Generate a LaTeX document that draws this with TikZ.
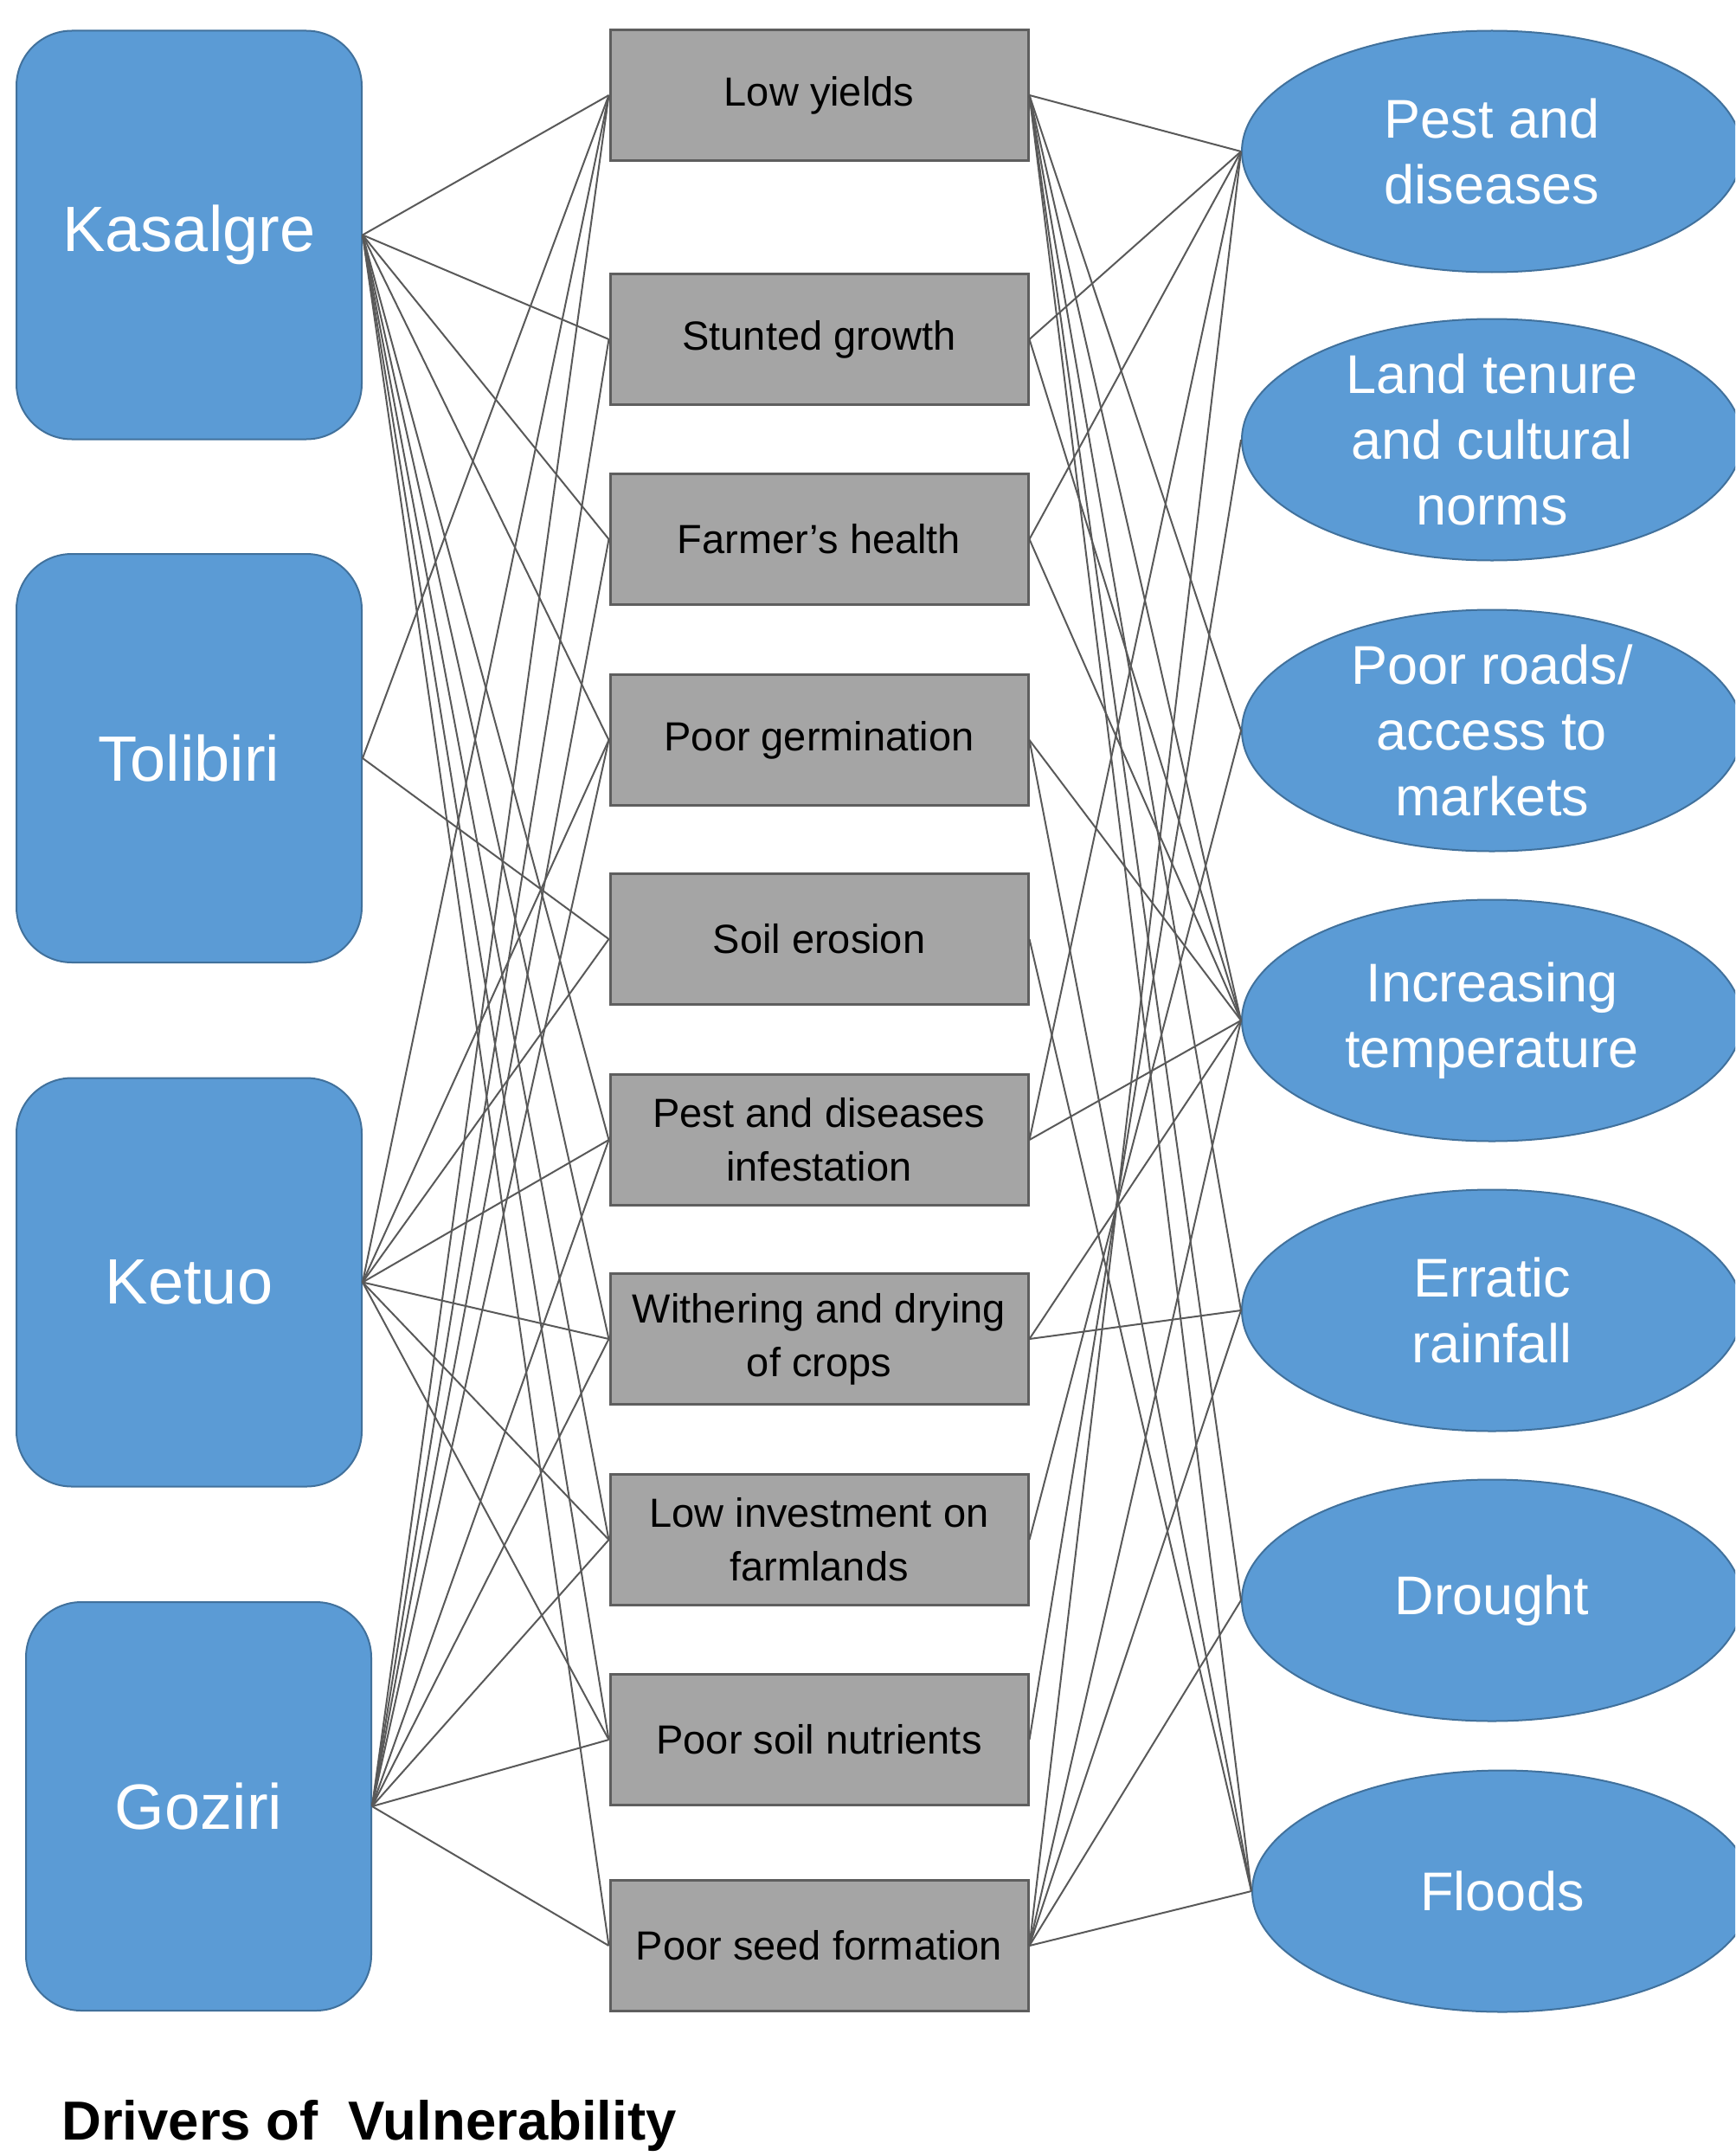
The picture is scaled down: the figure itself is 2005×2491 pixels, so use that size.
\documentclass[tikz,border=0pt]{standalone}
\usepackage{fontspec}
\setmainfont{Liberation Sans}
\usetikzlibrary{shapes.geometric}
\definecolor{cblue}{HTML}{5B9BD5}
\definecolor{cblueedge}{HTML}{41719C}
\definecolor{cgray}{HTML}{A5A5A5}
\definecolor{cgrayedge}{HTML}{5E5E5E}
\definecolor{cline}{HTML}{595959}
\begin{document}
\begin{tikzpicture}[x=1pt,y=-1pt,
  comm/.style={draw=cblueedge,line width=2pt,fill=cblue,rounded corners=64pt,
    minimum width=399pt,minimum height=472pt,inner sep=0pt,text=white,
    font=\fontsize{74}{88}\selectfont},
  imp/.style={draw=cgrayedge,line width=3pt,fill=cgray,
    minimum width=483pt,minimum height=151pt,inner sep=0pt,align=center,
    font=\fontsize{47}{62}\selectfont},
  drv/.style={ellipse,draw=cblueedge,line width=2pt,fill=cblue,
    minimum width=578pt,minimum height=279pt,inner sep=0pt},
  drvtext/.style={text=white,align=center,font=\fontsize{63}{76}\selectfont},
  link/.style={draw=cline,line width=2pt}]
\useasboundingbox (0,0) rectangle (2005,2491);
\clip (0,0) rectangle (2005,2491);
% communities
\node[comm] (K) at (218.5,271.5) {Kasalgre};
\node[comm] (T) at (218.5,876) {Tolibiri};
\node[comm] (E) at (218.5,1481.5) {Ketuo};
\node[comm] (G) at (229.5,2087) {Goziri};
% impacts
\node[imp] (b1) at (946.5,110) {Low yields};
\node[imp] (b2) at (946.5,392) {Stunted growth};
\node[imp] (b3) at (946.5,623) {Farmer’s health};
\node[imp] (b4) at (946.5,855) {Poor germination};
\node[imp] (b5) at (946.5,1085) {Soil erosion};
\node[imp] (b6) at (946.5,1317) {Pest and diseases\\infestation};
\node[imp] (b7) at (946.5,1547) {Withering and drying\\of crops};
\node[imp] (b8) at (946.5,1779) {Low investment on\\farmlands};
\node[imp] (b9) at (946.5,2010) {Poor soil nutrients};
\node[imp] (b10) at (946.5,2248) {Poor seed formation};
% drivers
\node[drv] (d1) at (1724,175) {};
\node[drv] (d2) at (1724,508) {};
\node[drv] (d3) at (1724,844) {};
\node[drv] (d4) at (1724,1179) {};
\node[drv] (d5) at (1724,1514) {};
\node[drv] (d6) at (1724,1849) {};
\node[drv] (d7) at (1736,2185) {};
\node[drvtext] at (d1) {Pest and\\diseases};
\node[drvtext] at (d2) {Land tenure\\and cultural\\norms};
\node[drvtext] at (d3) {Poor roads/\\access to\\markets};
\node[drvtext] at (d4) {Increasing\\temperature};
\node[drvtext] at (d5) {Erratic\\rainfall};
\node[drvtext] at (d6) {Drought};
\node[drvtext] at (d7) {Floods};
% left links
\foreach \b in {b1,b2,b3,b4,b6,b7,b8,b9,b10} \draw[link] (K.east) -- (\b.west);
\foreach \b in {b1,b5} \draw[link] (T.east) -- (\b.west);
\foreach \b in {b1,b4,b5,b6,b7,b8,b9} \draw[link] (E.east) -- (\b.west);
\foreach \b in {b1,b2,b3,b4,b6,b7,b8,b9,b10} \draw[link] (G.east) -- (\b.west);
% right links
\foreach \d in {d1,d3,d4,d5,d6,d7} \draw[link] (b1.east) -- (\d.west);
\foreach \d in {d1,d4} \draw[link] (b2.east) -- (\d.west);
\foreach \d in {d1,d4} \draw[link] (b3.east) -- (\d.west);
\foreach \d in {d4,d7} \draw[link] (b4.east) -- (\d.west);
\foreach \d in {d7} \draw[link] (b5.east) -- (\d.west);
\foreach \d in {d1,d4} \draw[link] (b6.east) -- (\d.west);
\foreach \d in {d4,d5} \draw[link] (b7.east) -- (\d.west);
\foreach \d in {d3} \draw[link] (b8.east) -- (\d.west);
\foreach \d in {d2} \draw[link] (b9.east) -- (\d.west);
\foreach \d in {d1,d4,d5,d6,d7} \draw[link] (b10.east) -- (\d.west);
% title
\node[anchor=base west,inner sep=0pt,font=\fontsize{63.5}{76}\selectfont\bfseries] (title) at (71,2472) {Drivers of\ \ Vulnerability};
\end{tikzpicture}
\end{document}
